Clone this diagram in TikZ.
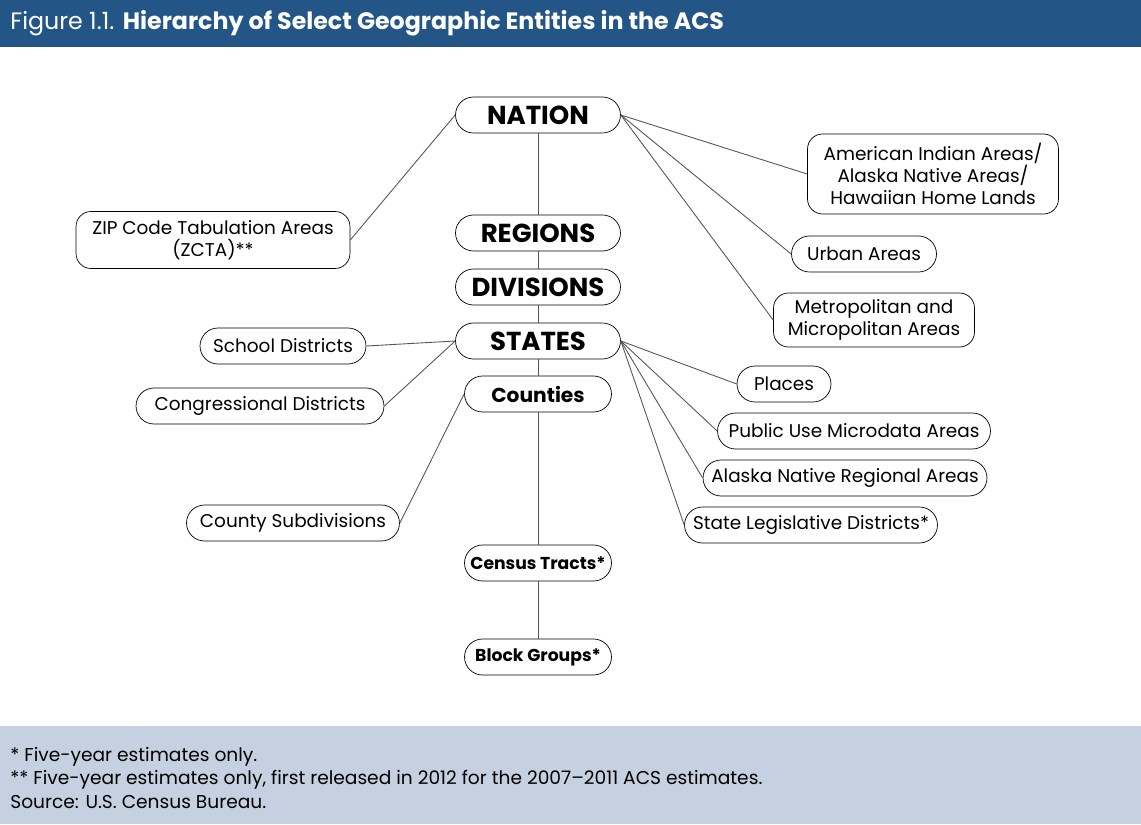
\documentclass[tikz,border=0pt]{standalone}
\usepackage{fontspec}
\setmainfont{Poppins}
\definecolor{titleblue}{HTML}{235687}
\definecolor{notegray}{HTML}{C5D1E0}
\definecolor{linkgray}{HTML}{555555}

\begin{document}
\begin{tikzpicture}[x=0.02cm,y=-0.02cm]
    \tikzstyle{level}=[draw=black,fill=white,rounded corners=0.36cm,minimum height=0.72cm,minimum width=3.3cm,inner sep=0pt,font=\bfseries\fontsize{14.8}{17}\selectfont]
    \tikzstyle{sublevel}=[level,minimum width=2.94cm,font=\bfseries\fontsize{11.5}{14}\selectfont]
    \tikzstyle{smalllevel}=[sublevel,font=\bfseries\fontsize{9.8}{12}\selectfont]
    \tikzstyle{area}=[draw=black,fill=white,rounded corners=0.36cm,minimum height=0.72cm,inner sep=0pt,align=center,font=\fontsize{10.5}{12.5}\selectfont]
    \tikzstyle{tallarea}=[area,rounded corners=0.3cm]
    \tikzstyle{link}=[draw=linkgray,line width=0.5pt]

    \useasboundingbox (0,0) rectangle (1141,824);
    \fill[titleblue] (0,0) rectangle (1141,47);
    \fill[notegray] (0,726) rectangle (1141,824);
    \node (title)[anchor=west,text=white,inner sep=0pt,font=\fontsize{13.5}{16}\selectfont] at (10,23.5) {Figure 1.1. \textbf{Hierarchy of Select Geographic Entities in the ACS}};
    \node (notes)[anchor=north west,align=left,inner sep=0pt,font=\fontsize{10.6}{13.6}\selectfont] at (10,746.5) {* Five-year estimates only.\\** Five-year estimates only, first released in 2012 for the 2007--2011 ACS estimates.\\Source: U.S. Census Bureau.};

    % main hierarchy
    \node (nation)[level] at (538,115) {NATION};
    \node (regions)[level] at (538,233) {REGIONS};
    \node (divisions)[level] at (538,287) {DIVISIONS};
    \node (states)[level] at (538,341) {STATES};
    \node (counties)[sublevel] at (538,394) {Counties};
    \node (tracts)[smalllevel] at (538,563) {Census Tracts*};
    \node (blockgroups)[smalllevel] at (538,657) {Block Groups*};

    % side entities
    \node (zcta)[tallarea,minimum width=5.48cm,minimum height=1.14cm] at (213,240) {ZIP Code Tabulation Areas\\(ZCTA)**};
    \node (school)[area,minimum width=3.32cm] at (283,346) {School Districts};
    \node (congress)[area,minimum width=4.96cm] at (260,406) {Congressional Districts};
    \node (cousub)[area,minimum width=4.26cm] at (293,523) {County Subdivisions};
    \node (aian)[tallarea,minimum width=5.02cm,minimum height=1.6cm] at (933,174) {American Indian Areas/\\Alaska Native Areas/\\Hawaiian Home Lands};
    \node (urban)[area,minimum width=2.9cm] at (864,254) {Urban Areas};
    \node (metro)[tallarea,minimum width=4.02cm,minimum height=1.08cm] at (874,320) {Metropolitan and\\Micropolitan Areas};
    \node (places)[area,minimum width=1.88cm] at (784,384) {Places};
    \node (puma)[area,minimum width=5.46cm] at (854,431) {Public Use Microdata Areas};
    \node (anra)[area,minimum width=5.68cm] at (845,478) {Alaska Native Regional Areas};
    \node (sld)[area,minimum width=5.06cm] at (811,525) {State Legislative Districts*};

    \path[link] (nation) edge (regions) (regions) edge (divisions) (divisions) edge (states);
    \path[link] (states) edge (counties) (counties) edge (tracts) (tracts) edge (blockgroups);
    \draw[link] (nation.west) -- (zcta.east);
    \foreach \n in {aian,urban,metro}
        \draw[link] (nation.east) -- (\n.west);
    \draw[link] (states.west) -- (school.east);
    \draw[link] (states.west) -- (congress.east);
    \draw[link] (counties.west) -- (cousub.east);
    \foreach \n in {places,puma,anra,sld}
        \draw[link] (states.east) -- (\n.west);
\end{tikzpicture}
\end{document}
